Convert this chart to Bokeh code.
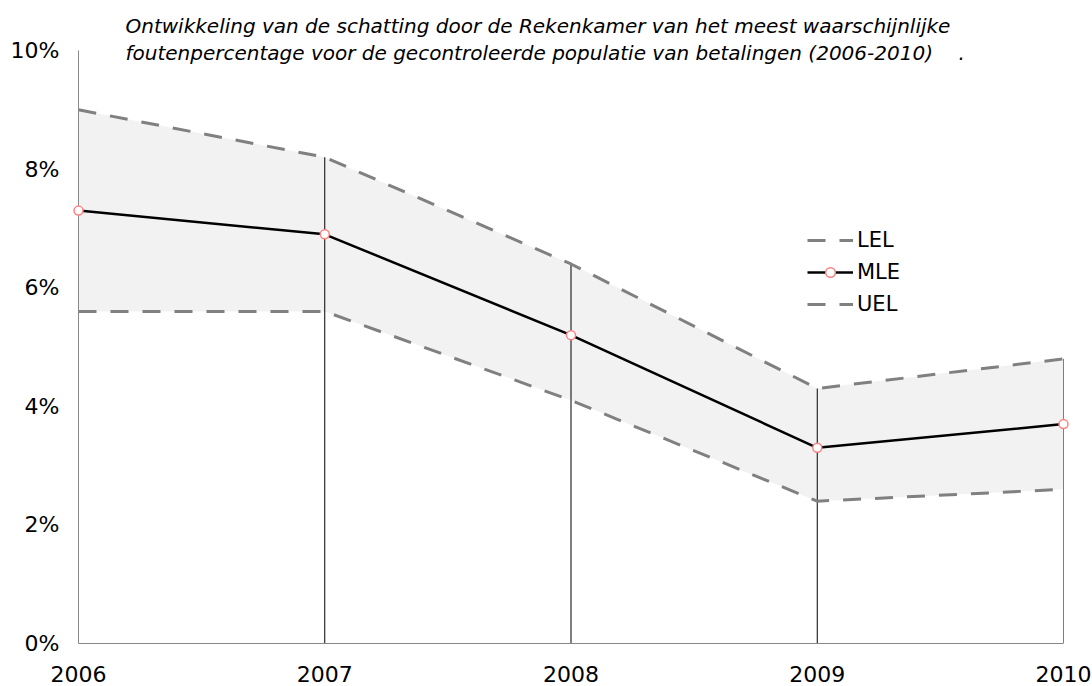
from bokeh.plotting import figure
from bokeh.models import (Range1d, FixedTicker, PrintfTickFormatter, Legend, LegendItem,
                          Label, ColumnDataSource)
from bokeh.embed import file_html
from bokeh.resources import INLINE

years = [2006, 2007, 2008, 2009, 2010]
uel = [9.0, 8.2, 6.4, 4.3, 4.8]
mle = [7.3, 6.9, 5.2, 3.3, 3.7]
lel = [5.6, 5.6, 4.1, 2.4, 2.6]
y_ticks = [0, 2, 4, 6, 8, 10]
title_lines = [
    "Ontwikkeling van de schatting door de Rekenkamer van het meest waarschijnlijke",
    "foutenpercentage voor de gecontroleerde populatie van betalingen (2006-2010)\u00a0\u00a0\u00a0\u00a0.",
]

FONT = "DejaVu Sans"
src = ColumnDataSource(dict(x=years, uel=uel, mle=mle, lel=lel))
drop_src = ColumnDataSource(dict(x=years[1:], top=uel[1:], zero=[0] * (len(years) - 1)))

# frame extends to the top of the canvas so the title (drawn inside the frame) is not clipped;
# 10% sits 50px below the top edge (frame height 643px)
y_top = y_ticks[-1] * 643.0 / 593.0

p = figure(width=1092, height=686, output_backend="svg", toolbar_location=None,
           x_range=Range1d(years[0], years[-1]), y_range=Range1d(0, y_top),
           min_border_left=78, min_border_right=29, min_border_top=0, min_border_bottom=43)
p.outline_line_color = None
p.background_fill_color = None
p.border_fill_color = "white"
p.xgrid.visible = False
p.ygrid.visible = False

# shaded band
p.varea(x="x", y1="lel", y2="uel", source=src, fill_color="#f2f2f2")
# drop lines
p.segment(x0="x", y0="zero", x1="x", y1="top", source=drop_src, line_color="black", line_width=1)
# bounds
r_uel = p.line("x", "uel", source=src, line_color="#808080", line_width=3, line_dash="18 14")
r_lel = p.line("x", "lel", source=src, line_color="#808080", line_width=3, line_dash="18 14")
r_mle = p.line("x", "mle", source=src, line_color="black", line_width=2.5)
r_pts = p.scatter("x", "mle", source=src, size=9, fill_color="white",
                  line_color="#ff8080", line_width=1.5, level="overlay")

for ax in (p.xaxis[0], p.yaxis[0]):
    ax.axis_line_color = "#888888"
    ax.axis_line_width = 1
    ax.major_tick_line_color = None
    ax.minor_tick_line_color = None
    ax.major_tick_out = 0
    ax.major_tick_in = 0
    ax.major_label_text_font = FONT
    ax.major_label_text_font_size = "22px"
    ax.major_label_text_color = "#000000"

p.xaxis.ticker = FixedTicker(ticks=years)
p.xaxis.major_label_standoff = 22
p.yaxis.ticker = FixedTicker(ticks=y_ticks)
p.yaxis.bounds = (y_ticks[0], y_ticks[-1])
p.yaxis.formatter = PrintfTickFormatter(format="%d%%")
p.yaxis.major_label_standoff = 19

legend = Legend(items=[
    LegendItem(label="LEL", renderers=[r_lel]),
    LegendItem(label="MLE", renderers=[r_mle, r_pts]),
    LegendItem(label="UEL", renderers=[r_uel]),
], location=(729, 327))
legend.border_line_color = None
legend.background_fill_alpha = 0
legend.padding = 0
legend.margin = 0
legend.glyph_width = 46
legend.glyph_height = 24
legend.label_height = 24
legend.spacing = 8
legend.label_standoff = 4
legend.label_text_font = FONT
legend.label_text_font_size = "21px"
legend.label_text_color = "#000000"
p.add_layout(legend)

for txt, yy in zip(title_lines, [618, 591]):
    p.add_layout(Label(x=47, y=yy, x_units="screen", y_units="screen", text=txt,
                       text_font=FONT, text_font_size="20px", text_font_style="italic",
                       text_color="#000000", text_baseline="alphabetic", text_align="left"))

open("out.html", "w").write(file_html(p, INLINE))
